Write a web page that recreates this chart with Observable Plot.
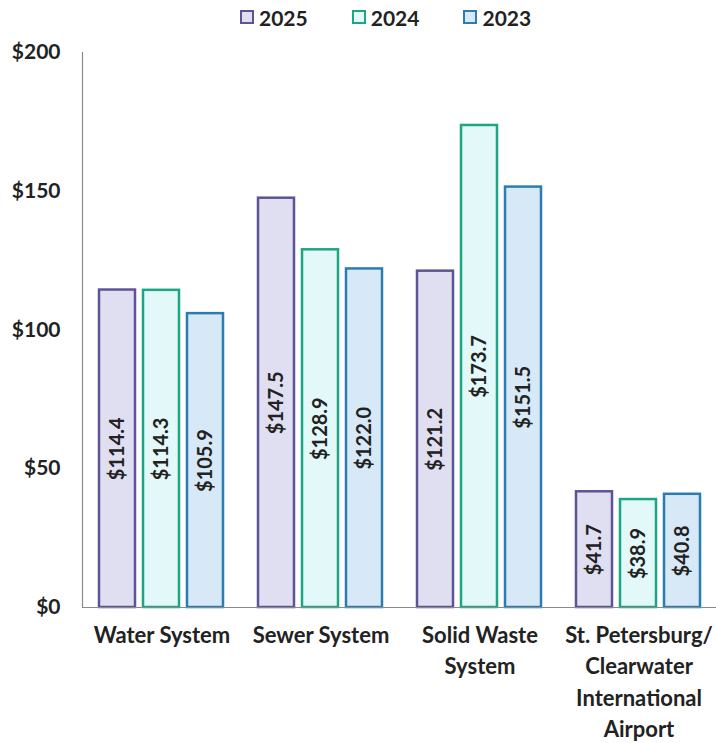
<!DOCTYPE html>
<html>
<head>
<meta charset="utf-8">
<script src="https://cdn.jsdelivr.net/npm/d3@7"></script>
<script src="https://cdn.jsdelivr.net/npm/@observablehq/plot@0.6"></script>
<style>
  html, body { margin: 0; padding: 0; background: #fff; overflow: hidden; }
  body { width: 716px; height: 743px; position: relative; font-family: Lato, "Open Sans", sans-serif; }
  #legend { position: absolute; left: 240px; top: 4px; height: 26px; display: flex; align-items: center; font-weight: bold; font-size: 21px; color: #222; }
  #legend .item { display: flex; align-items: center; margin-right: 44px; }
  #legend .swatch { width: 10px; height: 10px; border: 2.5px solid; margin-right: 5px; }
  #chart { position: absolute; left: 0; top: 34px; }
</style>
</head>
<body>
<div id="legend"></div>
<div id="chart"></div>
<script>
// Operating revenues by enterprise system, in millions of dollars
const systems = ["Water System", "Sewer System", "Solid Waste\nSystem", "St. Petersburg/\nClearwater\nInternational\nAirport"];
const years = ["2025", "2024", "2023"];
const values2025 = [114.4, 147.5, 121.2, 41.7];
const values2024 = [114.3, 128.9, 173.7, 38.9];
const values2023 = [105.9, 122.0, 151.5, 40.8];
const yTicks = [0, 50, 100, 150, 200];

const strokeColors = ["#5e5394", "#1ba781", "#2b7cb0"];
const fillColors = ["#e0dff2", "#e3f8f8", "#d7e9f6"];

const series = [values2025, values2024, values2023];
const data = [];
systems.forEach((s, i) => {
  years.forEach((y, j) => data.push({system: s, year: y, value: series[j][i]}));
});

// Legend
const legend = document.getElementById("legend");
years.forEach((y, j) => {
  const item = document.createElement("div");
  item.className = "item";
  const sw = document.createElement("div");
  sw.className = "swatch";
  sw.style.borderColor = strokeColors[j];
  sw.style.background = fillColors[j];
  item.appendChild(sw);
  item.appendChild(document.createTextNode(y));
  legend.appendChild(item);
});

const chart = Plot.plot({
  width: 716,
  height: 709,
  marginLeft: 82,
  marginRight: -2,
  marginTop: 18,
  marginBottom: 136,
  style: {fontFamily: "Lato, 'Open Sans', sans-serif", color: "#222", background: "transparent", overflow: "visible"},
  fx: {domain: systems, padding: 0, label: null},
  x: {domain: years, paddingInner: 0.18, paddingOuter: 0.39, axis: null},
  y: {domain: [0, 200], label: null},
  color: {domain: years, range: strokeColors},
  marks: [
    Plot.frame({anchor: "left", facetAnchor: "left", stroke: "#8a8a8a", strokeWidth: 1.2}),
    Plot.axisY({ticks: yTicks, tickSize: 0, tickPadding: 22, tickFormat: d => "$" + d, fontSize: 21, fontWeight: "bold", label: null}),
    Plot.axisFx({anchor: "bottom", tickSize: 0, tickPadding: 13, fontSize: 22, fontWeight: "bold", lineHeight: 1.43, label: null}),
    Plot.barY(data, {
      fx: "system", x: "year", y: "value",
      stroke: "year",
      fill: d => fillColors[years.indexOf(d.year)],
      strokeWidth: 2.5
    }),
    Plot.ruleY([0], {stroke: "#8a8a8a", strokeWidth: 1.2}),
    Plot.text(data, {
      fx: "system", x: "year", y: d => d.value / 2,
      text: d => "$" + d.value.toFixed(1),
      rotate: -90, fontSize: 20, fontWeight: "bold", fill: "#222"
    })
  ]
});
document.getElementById("chart").appendChild(chart);
</script>
</body>
</html>
